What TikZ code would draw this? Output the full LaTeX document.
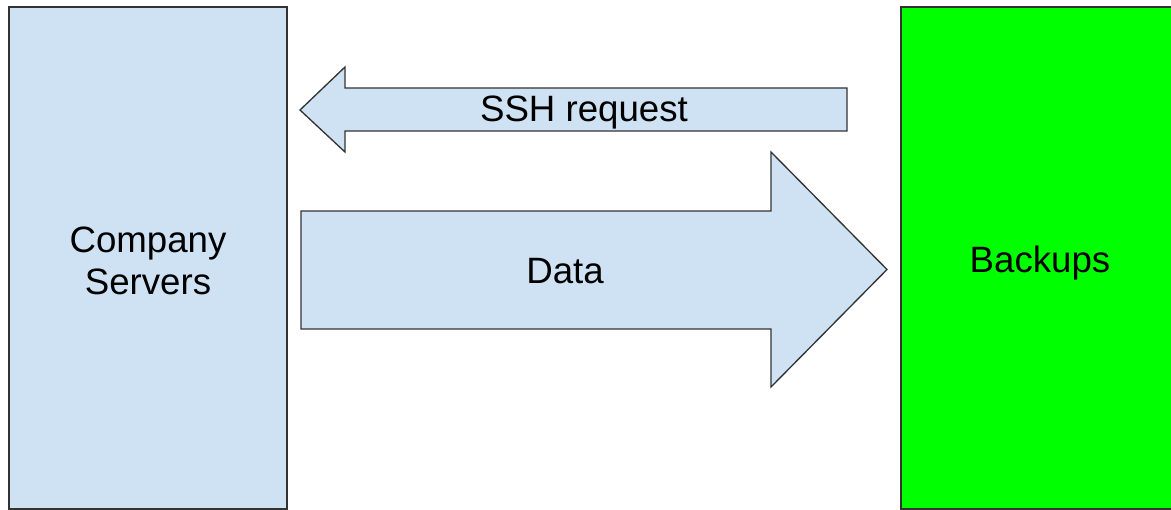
\documentclass[tikz,border=0pt]{standalone}
\usepackage{fontspec}
\setmainfont{Liberation Sans}
\usepackage{xcolor}
\usetikzlibrary{positioning}
\definecolor{srvblue}{HTML}{CFE2F3}
\definecolor{bkgreen}{HTML}{00FF00}
\definecolor{edgegray}{HTML}{333333}

\begin{document}
\begin{tikzpicture}[x=0.75pt, y=-0.75pt, line join=miter,
    every node/.style={font=\fontsize{27.5}{31}\selectfont, align=center},
    box/.style={rectangle, draw=edgegray, line width=1pt, minimum width=208.5pt, minimum height=376.5pt},
    blockarrow/.style={draw=edgegray, line width=1pt, fill=srvblue}]
        \useasboundingbox (0,0) rectangle (1171,510);
        \node[box, fill=srvblue] at (148,258) (servers) {};
        \node[box, fill=bkgreen] at (1040,258) (backups) {};
        \node at (148,261) (srvtext) {Company\\Servers};
        \node at (1040,263) (bktext) {Backups};
        % Arrows
        \draw[blockarrow] (300,110) -- (345,67) -- (345,88) -- (847,88) -- (847,131) -- (345,131) -- (345,152) -- cycle;
        \node at (584,113) (ssh) {SSH request};
        \draw[blockarrow] (301,211) -- (771,211) -- (771,152) -- (887,269.5) -- (771,387) -- (771,329) -- (301,329) -- cycle;
        \node at (565,271) (data) {Data};
    \end{tikzpicture}
\end{document}
